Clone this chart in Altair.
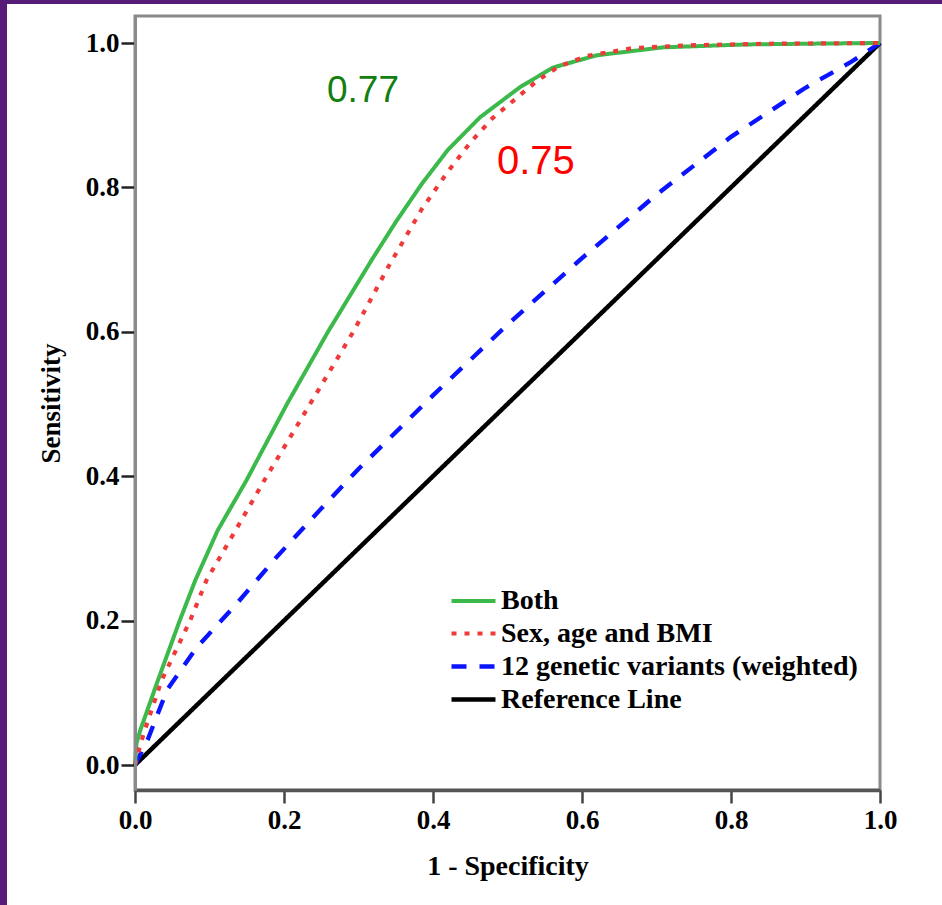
import altair as alt
import pandas as pd

# ---- data ----
series_names = ["Both", "Sex, age and BMI", "12 genetic variants (weighted)", "Reference Line"]
series_colors = ["#3cb94b", "#f03a3a", "#0a14ff", "#000000"]
series_dash = [[1, 0], [5, 8], [15, 13], [1, 0]]
series_width = [4, 4.5, 3, 2.5]

fpr_both = [0, 0.002, 0.007, 0.031, 0.060, 0.081, 0.111, 0.150, 0.204, 0.259, 0.318, 0.350, 0.385, 0.420, 0.463, 0.517, 0.561, 0.620, 0.709, 0.820, 0.900, 1.0]
tpr_both = [0, 0.030, 0.048, 0.118, 0.200, 0.256, 0.325, 0.395, 0.500, 0.600, 0.700, 0.752, 0.805, 0.852, 0.897, 0.939, 0.966, 0.983, 0.994, 0.998, 0.999, 1.0]

fpr_sab = [0, 0.005, 0.013, 0.036, 0.074, 0.096, 0.135, 0.174, 0.235, 0.293, 0.340, 0.385, 0.420, 0.450, 0.480, 0.517, 0.540, 0.570, 0.607, 0.668, 0.750, 0.850, 1.0]
tpr_sab = [0, 0.020, 0.048, 0.118, 0.200, 0.256, 0.325, 0.395, 0.500, 0.600, 0.690, 0.770, 0.822, 0.862, 0.896, 0.928, 0.948, 0.968, 0.982, 0.993, 0.997, 0.999, 1.0]

fpr_gen = [0, 0.017, 0.043, 0.083, 0.137, 0.190, 0.248, 0.300, 0.400, 0.500, 0.600, 0.700, 0.800, 0.900, 0.960, 1.0]
tpr_gen = [0, 0.035, 0.104, 0.163, 0.224, 0.288, 0.353, 0.410, 0.512, 0.610, 0.702, 0.790, 0.870, 0.938, 0.973, 1.0]

fpr_ref = [0, 1.0]
tpr_ref = [0, 1.0]

auc_labels = ["0.77", "0.75"]
auc_x = [0.306, 0.538]
auc_y = [0.918, 0.819]
auc_colors = ["#118011", "#ff0000"]
auc_sizes = [37, 40]

x_ticks = [0.0, 0.2, 0.4, 0.6, 0.8, 1.0]
y_ticks = [0.0, 0.2, 0.4, 0.6, 0.8, 1.0]

# ---- tables ----
rows = []
# drawing order: reference, genetic, both, sex/age/BMI
for name, xs, ys in [
    (series_names[3], fpr_ref, tpr_ref),
    (series_names[2], fpr_gen, tpr_gen),
    (series_names[0], fpr_both, tpr_both),
    (series_names[1], fpr_sab, tpr_sab),
]:
    for i, (a, b) in enumerate(zip(xs, ys)):
        rows.append({"series": name, "fpr": a, "tpr": b, "i": i})
df = pd.DataFrame(rows)

ann = pd.DataFrame({"label": auc_labels, "x": auc_x, "y": auc_y, "c": auc_colors, "s": auc_sizes})

W, H = 745, 774
SERIF = "Liberation Serif"

xscale = alt.Scale(domain=[0, 1], nice=False, zero=False)
yscale = alt.Scale(domain=[-0.0346, 1.0374], nice=False, zero=False)

xaxis = alt.Axis(
    values=x_ticks, format=".1f", title="1 - Specificity",
    labelFont=SERIF, labelFontSize=27, labelFontWeight="bold", labelColor="#000",
    titleFont=SERIF, titleFontSize=28, titleFontWeight="bold", titleColor="#000",
    tickSize=13, tickWidth=2.5, tickColor="#444", domainColor="#555", domainWidth=3.5,
    labelPadding=4, titlePadding=19, grid=False, zindex=1, labelFlush=False,
)
yaxis = alt.Axis(
    values=y_ticks, format=".1f", title="Sensitivity",
    labelFont=SERIF, labelFontSize=27, labelFontWeight="bold", labelColor="#000",
    titleFont=SERIF, titleFontSize=27, titleFontWeight="bold", titleColor="#000",
    tickSize=14, tickWidth=2.5, tickColor="#222", domainColor="#8a8a8a", domainWidth=3,
    labelPadding=2, titlePadding=20, grid=False, zindex=1, labelFlush=False,
)

# symbol: a horizontal stroke of ~44px drawn from the left edge of a 30px symbol box
legend_cfg = dict(
    title=None, orient="none", legendX=314, legendY=568,
    symbolType="M-1,0H1.933", symbolSize=900, symbolStrokeWidth=3,
    labelFont=SERIF, labelFontSize=28, labelFontWeight="bold", labelColor="#000",
    labelOffset=17, rowPadding=1, padding=0, labelLimit=600,
)

lines = alt.Chart(df).mark_line(clip=False).encode(
    x=alt.X("fpr:Q", scale=xscale, axis=xaxis),
    y=alt.Y("tpr:Q", scale=yscale, axis=yaxis),
    color=alt.Color(
        "series:N",
        scale=alt.Scale(domain=series_names, range=series_colors),
        legend=alt.Legend(**legend_cfg),
    ),
    strokeDash=alt.StrokeDash(
        "series:N",
        scale=alt.Scale(domain=series_names, range=series_dash),
        legend=alt.Legend(**legend_cfg),
    ),
    strokeWidth=alt.StrokeWidth(
        "series:N", scale=alt.Scale(domain=series_names, range=series_width), legend=None
    ),
    order="i:Q",
)

texts = alt.Chart(ann).mark_text(
    font="Liberation Sans", align="center", baseline="alphabetic"
).encode(
    x=alt.X("x:Q", scale=xscale),
    y=alt.Y("y:Q", scale=yscale),
    text="label:N",
    color=alt.Color("c:N", scale=None),
    size=alt.Size("s:Q", scale=None),
)

# purple page border strips (left and top), outside the plot area
PURPLE = "#571b78"
strip_left = alt.Chart(pd.DataFrame({"k": [0]})).mark_rect(color=PURPLE).encode(
    x=alt.value(-135), x2=alt.value(-128), y=alt.value(-16), y2=alt.value(889)
)
strip_top = alt.Chart(pd.DataFrame({"k": [0]})).mark_rect(color=PURPLE).encode(
    x=alt.value(-135), x2=alt.value(807), y=alt.value(-16), y2=alt.value(-12)
)

chart = alt.layer(strip_left, strip_top, lines, texts).properties(
    width=W, height=H,
    autosize=alt.AutoSizeParams(type="none"),
    padding={"left": 135, "top": 16, "right": 62, "bottom": 115},
    background="white",
).configure_view(
    stroke="#8a8a8a", strokeWidth=3, fill="white"
)

chart.save("out.html", embed_options={"renderer": "svg", "actions": False})
